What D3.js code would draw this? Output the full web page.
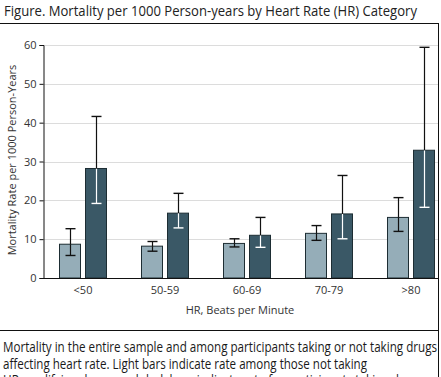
<!DOCTYPE html>
<html>
<head>
<meta charset="utf-8">
<script src="https://cdn.jsdelivr.net/npm/d3@7"></script>
<style>
  body { margin: 0; background: #fff; }
  svg { display: block; font-family: "Open Sans", "Noto Sans", sans-serif; }
</style>
</head>
<body>
<div id="vis"></div>
<script>
// values
var categories = ["<50", "50-59", "60-69", "70-79", ">80"];
var offRate  = [8.7, 8.2, 8.9, 11.5, 15.6];
var offLow   = [5.8, 6.9, 8.0, 9.7, 12.0];
var offHigh  = [12.7, 9.4, 10.1, 13.5, 20.7];
var onRate   = [28.2, 16.7, 11.0, 16.5, 32.9];
var onLow    = [19.2, 12.9, 7.9, 10.1, 18.2];
var onHigh   = [41.6, 21.8, 15.6, 26.4, 59.4];
var yTicks   = [0, 10, 20, 30, 40, 50, 60];

var width = 441, height = 377;

var svg = d3.select("#vis").append("svg")
  .attr("width", width)
  .attr("height", height);

// title + frame
svg.append("text")
  .attr("x", 4).attr("y", 16)
  .attr("font-size", 15).attr("font-weight", 500)
  .attr("fill", "#222")
  .attr("textLength", 413).attr("lengthAdjust", "spacingAndGlyphs")
  .text("Figure. Mortality per 1000 Person-years by Heart Rate (HR) Category");

svg.append("line").attr("x1", 0).attr("x2", 438).attr("y1", 23.5).attr("y2", 23.5)
  .attr("stroke", "#111").attr("stroke-width", 1);
svg.append("line").attr("x1", 438.5).attr("x2", 438.5).attr("y1", 23).attr("y2", height)
  .attr("stroke", "#111").attr("stroke-width", 1);
svg.append("line").attr("x1", 0).attr("x2", 438).attr("y1", 330.5).attr("y2", 330.5)
  .attr("stroke", "#111").attr("stroke-width", 1);

////////// scales //////////
var y = d3.scaleLinear().domain([0, 60]).range([278, 45]);

var x = d3.scaleBand().domain(categories).range([42, 452]);
var x1 = d3.scaleBand().domain(["off", "on"]).range([-24, 24]).paddingInner(4 / 26);

var rows = categories.map(function(c, i) {
  return {
    cat: c,
    bars: [
      {key: "off", v: offRate[i], lo: offLow[i], hi: offHigh[i]},
      {key: "on", v: onRate[i], lo: onLow[i], hi: onHigh[i]}
    ]
  };
});

// gridlines
svg.append("g").selectAll("line")
  .data(yTicks.filter(function(d) { return d > 0; }))
  .enter().append("line")
  .attr("x1", 43).attr("x2", 438)
  .attr("y1", function(d) { return Math.round(y(d)) + 0.5; })
  .attr("y2", function(d) { return Math.round(y(d)) + 0.5; })
  .attr("stroke", "#dcdcdc").attr("stroke-width", 1.2);

// y axis
var yAxis = svg.append("g")
  .attr("transform", "translate(43.5,0)")
  .call(d3.axisLeft(y).tickValues(yTicks).tickSize(4).tickPadding(3));
yAxis.select(".domain").attr("stroke", "#111");
yAxis.selectAll(".tick line").attr("stroke", "#111");
yAxis.selectAll("text").attr("font-size", 11).attr("fill", "#333")
  .attr("font-family", "\"Open Sans\", sans-serif");

// bars
var colors = {off: "#95adb8", on: "#3a5866"};
var groups = svg.append("g").selectAll("g")
  .data(rows).enter().append("g")
  .attr("transform", function(d) { return "translate(" + (x(d.cat) + x.bandwidth() / 2) + ",0)"; });

groups.selectAll("rect")
  .data(function(d) { return d.bars; })
  .enter().append("rect")
  .attr("x", function(d) { return x1(d.key) + 0.5; })
  .attr("width", x1.bandwidth() - 1)
  .attr("y", function(d) { return y(d.v); })
  .attr("height", function(d) { return y(0) - y(d.v); })
  .attr("fill", function(d) { return colors[d.key]; })
  .attr("stroke", "#1d2d33").attr("stroke-width", 1);

// error bars: black outside the bar, white inside dark bars
var capW = 5;
groups.selectAll("g.err")
  .data(function(d) { return d.bars; })
  .enter().append("g")
  .attr("class", "err")
  .each(function(d) {
    var g = d3.select(this);
    var cx = Math.round(x1(d.key) + x1.bandwidth() / 2) + 0.5;
    var inner = d.key == "on" ? "#fff" : "#111";
    // part below bar top
    g.append("line").attr("x1", cx).attr("x2", cx)
      .attr("y1", y(d.lo)).attr("y2", y(d.v))
      .attr("stroke", inner).attr("stroke-width", 1.2);
    g.append("line").attr("x1", cx - capW).attr("x2", cx + capW)
      .attr("y1", y(d.lo)).attr("y2", y(d.lo))
      .attr("stroke", inner).attr("stroke-width", 1.4);
    // part above bar top
    g.append("line").attr("x1", cx).attr("x2", cx)
      .attr("y1", y(d.v)).attr("y2", y(d.hi))
      .attr("stroke", "#111").attr("stroke-width", 1.2);
    g.append("line").attr("x1", cx - capW).attr("x2", cx + capW)
      .attr("y1", y(d.hi)).attr("y2", y(d.hi))
      .attr("stroke", "#111").attr("stroke-width", 1.4);
  });

// x axis
var xAxis = svg.append("g")
  .attr("transform", "translate(0,278.5)")
  .call(d3.axisBottom(x).tickSize(0).tickPadding(8));
xAxis.select(".domain").attr("d", "M43,0H438").attr("stroke", "#111");
xAxis.selectAll("text").attr("font-size", 11).attr("fill", "#333")
  .attr("font-family", "\"Open Sans\", sans-serif");

// axis titles
svg.append("text")
  .attr("x", 240).attr("y", 314)
  .attr("text-anchor", "middle").attr("font-size", 11).attr("fill", "#333")
  .text("HR, Beats per Minute");

svg.append("text")
  .attr("transform", "translate(16,160) rotate(-90)")
  .attr("text-anchor", "middle").attr("font-size", 11).attr("fill", "#333")
  .text("Mortality Rate per 1000 Person-Years");

// caption
var caption = [
  "Mortality in the entire sample and among participants taking or not taking drugs",
  "affecting heart rate. Light bars indicate rate among those not taking",
  "HR-modifying drugs, and dark bars indicate rate for participants taking drugs"
];
var capLens = [434, 364, 420];
svg.append("g").selectAll("text")
  .data(caption).enter().append("text")
  .attr("x", 3)
  .attr("y", function(d, i) { return 352 + i * 16.5; })
  .attr("font-size", 14).attr("fill", "#1a1a1a")
  .attr("textLength", function(d, i) { return capLens[i]; })
  .attr("lengthAdjust", "spacingAndGlyphs")
  .text(function(d) { return d; });
</script>
</body>
</html>
